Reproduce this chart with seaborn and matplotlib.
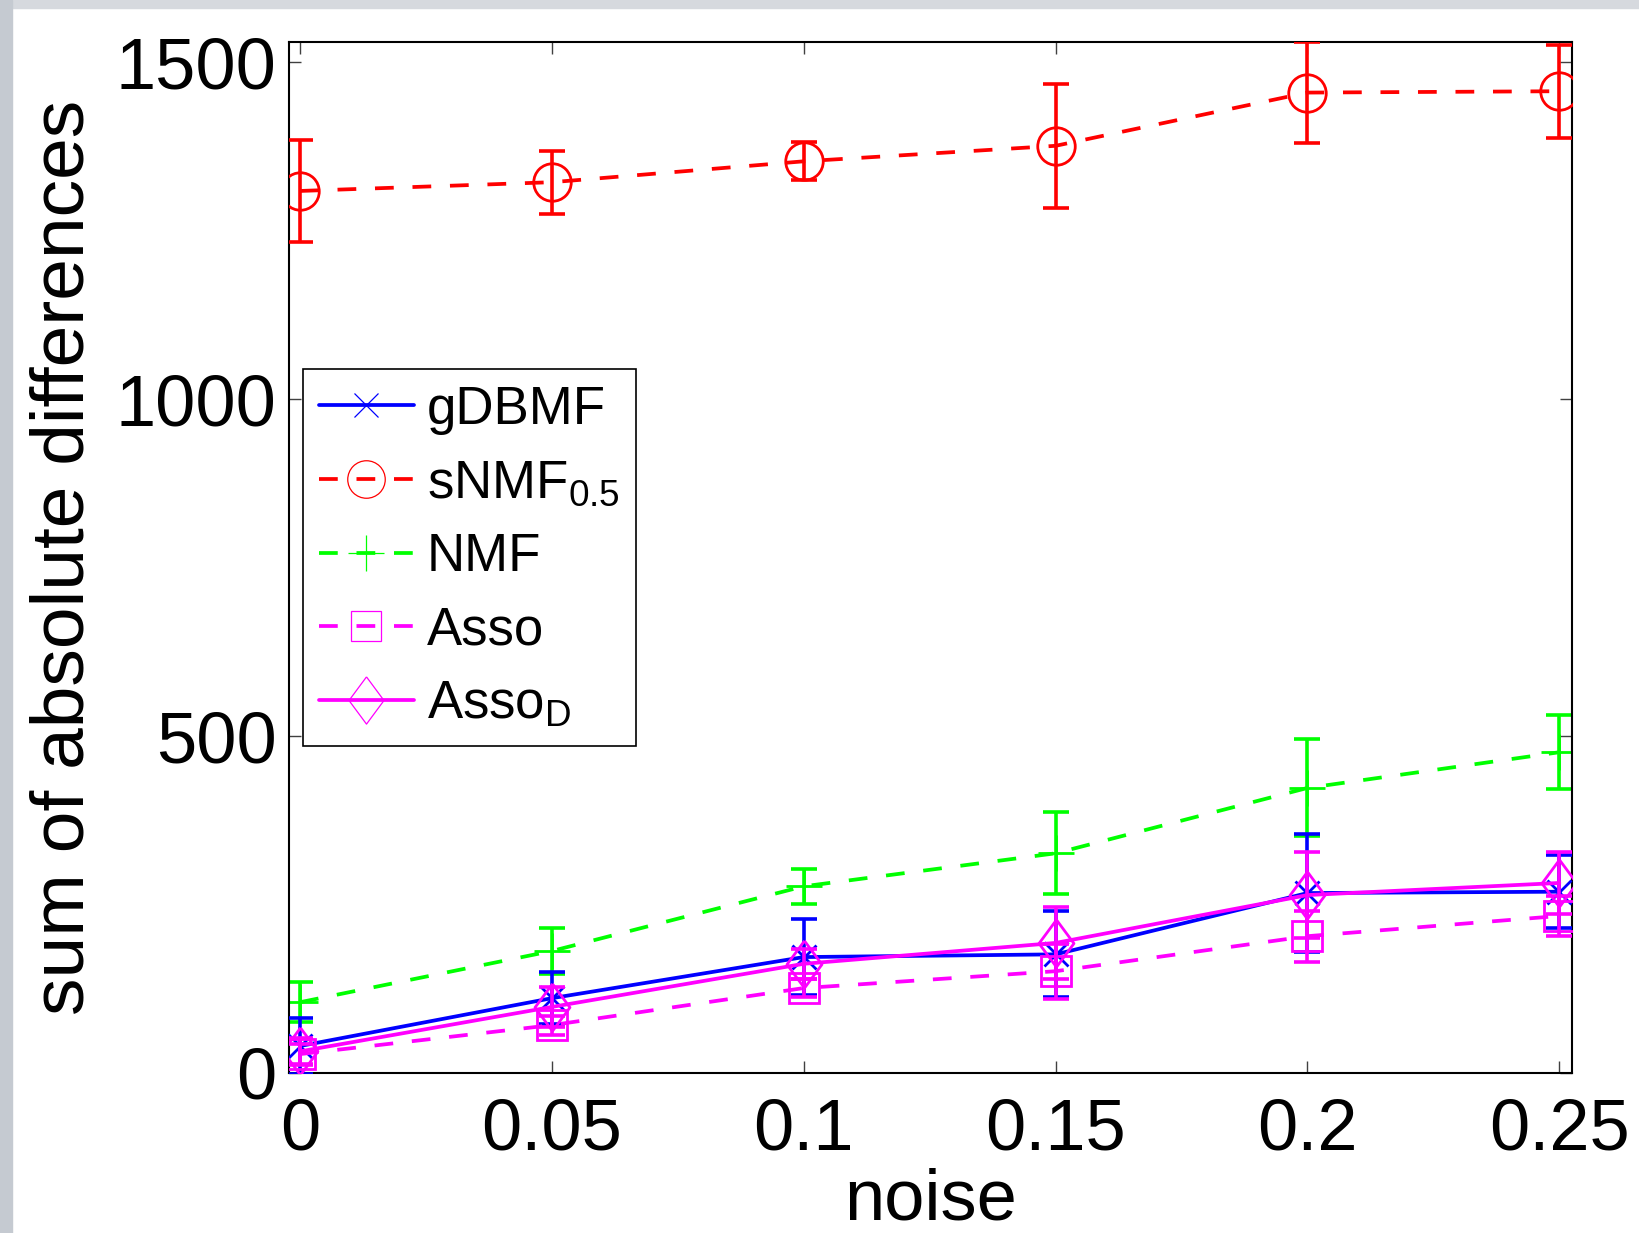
import seaborn as sns
import matplotlib.pyplot as plt
from matplotlib.patches import Rectangle

noise = [0, 0.05, 0.1, 0.15, 0.2, 0.25]
noise_labels = ['0', '0.05', '0.1', '0.15', '0.2', '0.25']

gdbmf = [40, 111, 172, 176, 267, 269]
gdbmf_err = [42, 39, 57, 64, 88, 54]
snmf = [1309, 1322, 1353, 1376, 1455, 1457]
snmf_err = [76, 47, 28, 92, 75, 69]
nmf = [105, 181, 277, 326, 423, 476]
nmf_err = [30, 34, 26, 61, 72, 55]
asso = [28, 71, 126, 151, 203, 233]
asso_err = [15, 14, 14, 41, 38, 30]
assod = [32, 98, 162, 193, 264, 282]
assod_err = [20, 30, 22, 54, 64, 46]

yticks = [0, 500, 1000, 1500]

sns.set_style("ticks")
plt.rcParams['font.family'] = ['Liberation Sans', 'DejaVu Sans']
plt.rcParams['mathtext.default'] = 'regular'
plt.rcParams['text.color'] = 'k'
plt.rcParams['axes.labelcolor'] = 'k'

fig = plt.figure(figsize=(16.4, 12.33), dpi=100)
ax = fig.add_axes([0.1762, 0.1298, 0.7823, 0.8361])

# MATLAB-style tall diamond
diamond = [(0, 1), (0.74, 0), (0, -1), (-0.74, 0), (0, 1)]

series = [
    ('gDBMF', gdbmf, gdbmf_err, '#0000ff', 'x', 17, '-', 4),
    (r'sNMF$_{0.5}$', snmf, snmf_err, '#ff0000', 'o', 27, '--', 3),
    ('NMF', nmf, nmf_err, '#00ff00', '+', 26, '--', 2),
    ('Asso', asso, asso_err, '#ff00ff', 's', 21, '--', 5),
    (r'Asso$_D$', assod, assod_err, '#ff00ff', diamond, 34, '-', 6),
]

for label, vals, errs, col, mk, ms, ls, z in series:
    sns.lineplot(x=noise, y=vals, ax=ax, color=col, marker=mk, markersize=ms,
                 markerfacecolor='none', markeredgecolor=col, markeredgewidth=2.0,
                 linewidth=2.7, linestyle=ls, label=label, zorder=z)
    line = ax.lines[-1]
    if ls == '--':
        line.set_dashes([5, 5])
    ax.errorbar(noise, vals, yerr=errs, fmt='none', ecolor=col, elinewidth=2.6,
                capsize=9.5, capthick=2.6, zorder=z)

ax.set_xlim(-0.0022, 0.2525)
ax.set_ylim(0, 1530)
ax.set_xticks(noise)
ax.set_xticklabels(noise_labels)
ax.set_yticks(yticks)
ax.set_yticklabels([str(v) for v in yticks])
ax.tick_params(direction='in', length=8.6, width=1, color='#404040',
               labelcolor='k', labelsize=52, top=True, right=True)
ax.tick_params(axis='x', pad=18)
ax.tick_params(axis='y', pad=9)
for sp in ax.spines.values():
    sp.set_visible(True)
    sp.set_linewidth(1.5)
    sp.set_color('k')

ax.set_xlabel('noise', fontsize=52, labelpad=2)
ax.set_ylabel('sum of absolute differences', fontsize=54, labelpad=12)

leg = ax.legend(loc='upper left', bbox_to_anchor=(0.011, 0.683), borderaxespad=0,
                fontsize=38, frameon=True, fancybox=False, edgecolor='k',
                framealpha=1, handlelength=1.8, handletextpad=0.25,
                labelspacing=0.45, borderpad=0.3)
leg.get_frame().set_linewidth(1.2)
for h in leg.legend_handles:
    h.set_markeredgewidth(0.9)
for t in leg.get_texts():
    t.set_color('k')

# screenshot frame
fig.patches.append(Rectangle((0, 1 - 8 / 1233), 1, 8 / 1233, transform=fig.transFigure,
                             color='#d6d9de', zorder=-1))
fig.patches.append(Rectangle((0, 0), 12 / 1640, 1, transform=fig.transFigure,
                             color='#c5cad1', zorder=-1))

fig.savefig('out.png', dpi=100)
